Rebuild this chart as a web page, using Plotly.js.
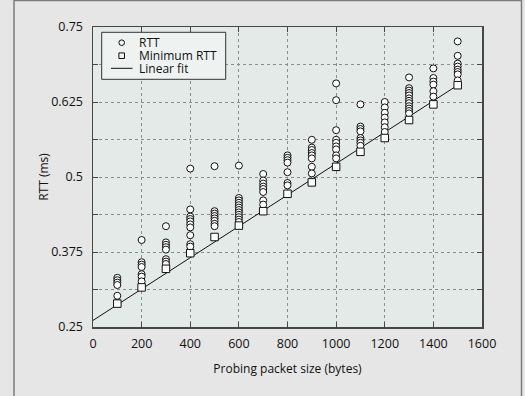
<!DOCTYPE html>
<html>
<head>
<meta charset="utf-8">
<script src="https://cdn.plot.ly/plotly-3.0.1.min.js"></script>
<style>
html,body{margin:0;padding:0;background:#e6e6e6;}
#chart{width:525px;height:396px;}
</style>
</head>
<body>
<div id="chart"></div>
<script>
// Packet sizes (bytes)
const packetSizes = [100, 200, 300, 400, 500, 600, 700, 800, 900, 1000, 1100, 1200, 1300, 1400, 1500];
// RTT samples (ms) per packet size
const rttSamples = [
  [0.332, 0.328, 0.324, 0.320, 0.302, 0.290],
  [0.395, 0.358, 0.354, 0.350, 0.338, 0.334, 0.326],
  [0.418, 0.391, 0.387, 0.383, 0.379, 0.363, 0.359, 0.355],
  [0.514, 0.446, 0.434, 0.430, 0.426, 0.421, 0.416, 0.403, 0.388, 0.384],
  [0.518, 0.443, 0.439, 0.435, 0.431, 0.427, 0.422, 0.418],
  [0.519, 0.465, 0.461, 0.457, 0.453, 0.449, 0.445, 0.441, 0.437, 0.433, 0.429, 0.425],
  [0.505, 0.494, 0.489, 0.484, 0.480, 0.475, 0.461, 0.454],
  [0.536, 0.532, 0.528, 0.524, 0.508, 0.490, 0.486],
  [0.562, 0.549, 0.545, 0.540, 0.536, 0.531, 0.517, 0.506],
  [0.656, 0.628, 0.578, 0.562, 0.557, 0.551, 0.546, 0.536, 0.531],
  [0.621, 0.584, 0.580, 0.576, 0.565, 0.561, 0.557, 0.552],
  [0.625, 0.616, 0.607, 0.599, 0.591, 0.583, 0.575],
  [0.666, 0.648, 0.644, 0.640, 0.636, 0.631, 0.627, 0.623, 0.618, 0.614, 0.610, 0.606],
  [0.681, 0.665, 0.659, 0.654, 0.643, 0.634],
  [0.726, 0.702, 0.689, 0.684, 0.679, 0.675, 0.671, 0.661]
];
// Minimum RTT (ms) per packet size
const minRtt = [0.289, 0.316, 0.347, 0.373, 0.400, 0.419, 0.443, 0.472, 0.491, 0.517, 0.542, 0.565, 0.595, 0.621, 0.653];
// Linear fit end points
const fitX = [0, 1500];
const fitY = [0.261, 0.653];
// Axis ticks
const xTickVals = [0, 200, 400, 600, 800, 1000, 1200, 1400, 1600];
const yTickVals = [0.25, 0.3125, 0.375, 0.4375, 0.5, 0.5625, 0.625, 0.6875, 0.75];
const yTickText = ['0.25', '', '0.375', '', '0.5', '', '0.625', '', '0.75'];
// Legend labels
const seriesNames = ['RTT', 'Minimum RTT', 'Linear fit'];

const rttX = [], rttY = [];
packetSizes.forEach((s, i) => rttSamples[i].forEach(v => { rttX.push(s); rttY.push(v); }));

const FONT = '"Open Sans", "DejaVu Sans", sans-serif';

const traces = [
  {x: fitX, y: fitY, mode: 'lines', name: seriesNames[2], line: {color: '#111', width: 1}, showlegend: false, cliponaxis: false},
  {x: rttX, y: rttY, mode: 'markers', name: seriesNames[0], showlegend: false, cliponaxis: false,
   marker: {symbol: 'circle', size: 7, color: '#ffffff', line: {color: '#111', width: 1}}},
  {x: packetSizes, y: minRtt, mode: 'markers', name: seriesNames[1], showlegend: false, cliponaxis: false,
   marker: {symbol: 'square', size: 7.5, color: '#ffffff', line: {color: '#111', width: 1}}}
];

// Plot area: x 93..482, y 27..327 px
const L = 93, R = 482, T = 27, B = 327;
const px = v => (v - L) / (R - L);
const py = v => (B - v) / (B - T);

const shapes = [
  // outer frame
  {type: 'rect', xref: 'paper', yref: 'paper', x0: px(14), x1: px(521.5), y0: py(400), y1: py(0.5),
   line: {color: '#7c7c7c', width: 1.5}, fillcolor: 'rgba(0,0,0,0)', layer: 'below'},
  // legend box
  {type: 'rect', xref: 'paper', yref: 'paper', x0: px(101.7), x1: px(225.7), y0: py(79.3), y1: py(32.3),
   line: {color: '#333', width: 1}, fillcolor: '#eef3f2', layer: 'above'},
  // legend symbols
  {type: 'circle', xref: 'paper', yref: 'paper', xsizemode: 'pixel', ysizemode: 'pixel',
   xanchor: px(121.7), yanchor: py(42.7), x0: -2.8, x1: 2.8, y0: -2.8, y1: 2.8,
   line: {color: '#111', width: 1}, fillcolor: 'rgba(0,0,0,0)', layer: 'above'},
  {type: 'rect', xref: 'paper', yref: 'paper', xsizemode: 'pixel', ysizemode: 'pixel',
   xanchor: px(121.7), yanchor: py(55.7), x0: -2.8, x1: 2.8, y0: -2.8, y1: 2.8,
   line: {color: '#111', width: 1}, fillcolor: 'rgba(0,0,0,0)', layer: 'above'},
  {type: 'line', xref: 'paper', yref: 'paper', x0: px(111), x1: px(132.5), y0: py(68.3), y1: py(68.3),
   line: {color: '#111', width: 1}, layer: 'above'}
];

const legendY = [42.7, 55.7, 68.3];
const annotations = seriesNames.map((n, i) => ({
  text: n, xref: 'paper', yref: 'paper', x: px(137.5), y: py(legendY[i]),
  xanchor: 'left', yanchor: 'middle', showarrow: false, borderpad: 0, height: 13,
  font: {family: FONT, size: 12, color: '#111'}
}));

const axisCommon = {
  showline: true, linecolor: '#474747', linewidth: 1.5, mirror: 'ticks',
  ticks: 'inside', ticklen: 5, tickcolor: '#474747', tickwidth: 1,
  showgrid: true, gridcolor: '#8c8c8c', gridwidth: 1, griddash: 'dot',
  zeroline: false, tickfont: {family: FONT, size: 12.5, color: '#111'}
};

const layout = {
  width: 525, height: 396,
  margin: {l: L, r: 525 - R, t: T, b: 396 - B, pad: 0},
  paper_bgcolor: '#e6e6e6', plot_bgcolor: '#e3eae8',
  showlegend: false,
  font: {family: FONT, size: 12, color: '#111'},
  xaxis: Object.assign({}, axisCommon, {
    range: [0, 1600], tickmode: 'array', tickvals: xTickVals, ticktext: xTickVals.map(String),
    ticklabelstandoff: 4,
    title: {text: 'Probing packet size (bytes)', font: {family: FONT, size: 12, color: '#111'}, standoff: 14}
  }),
  yaxis: Object.assign({}, axisCommon, {
    range: [0.25, 0.75], tickmode: 'array', tickvals: yTickVals, ticktext: yTickText,
    ticklabelstandoff: 6,
    title: {text: 'RTT (ms)', font: {family: FONT, size: 12, color: '#111'}, standoff: 0}
  }),
  shapes: shapes,
  annotations: annotations
};

Plotly.newPlot('chart', traces, layout, {displayModeBar: false, staticPlot: true});
</script>
</body>
</html>
